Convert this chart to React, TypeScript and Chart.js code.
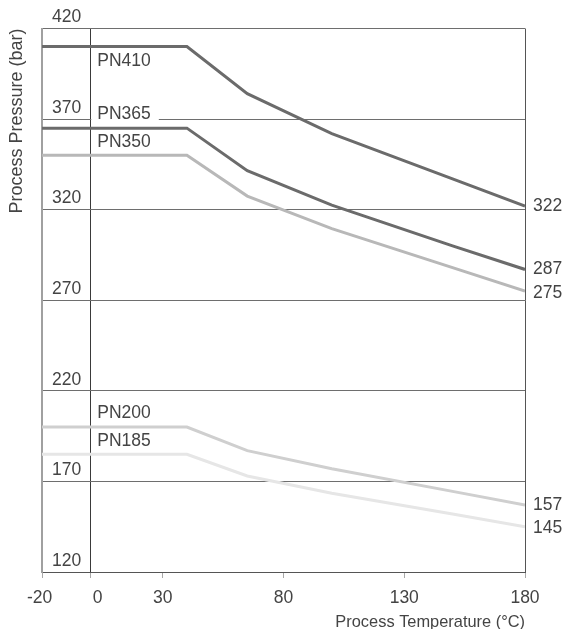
import React, { useEffect, useRef } from "react";
import { Chart, registerables } from "chart.js";

Chart.register(...registerables);

// ---- data ----
const temperatures = [-20, 40, 65, 100, 150, 180];
const seriesNames = ["PN410", "PN365", "PN350", "PN200", "PN185"];
const pn410 = [410, 410, 384, 362, 337, 322];
const pn365 = [365, 365, 341.5, 322.5, 300, 287];
const pn350 = [350, 350, 327.5, 309.5, 288, 275];
const pn200 = [200, 200, 187, 177, 164.5, 157];
const pn185 = [185, 185, 173, 163.5, 152, 145];
const xTicks = [-20, 0, 30, 80, 130, 180];
const yTicks = [120, 170, 220, 270, 320, 370, 420];

const seriesValues = [pn410, pn365, pn350, pn200, pn185];
const seriesColors = ["#6b6b6b", "#6b6b6b", "#b8b8b8", "#cfcfcf", "#e6e6e6"];

const FAMILY = "'Liberation Sans', Arial, Helvetica, sans-serif";
const TEXT = "#444444";
const TICK_SIZE = 17.5;

const labelPlugin = {
  id: "pnLabels",
  afterDatasetsDraw(chart: any) {
    const { ctx, chartArea, scales } = chart;
    const xs = scales.x;
    const ys = scales.y;
    ctx.save();
    ctx.font = `${TICK_SIZE}px ${FAMILY}`;
    ctx.textBaseline = "middle";
    ctx.textAlign = "left";
    const x0 = xs.getPixelForValue(0);
    chart.data.datasets.forEach((ds: any) => {
      const py = ys.getPixelForValue(ds.data[0].y);
      const below = py - 22 < chartArea.top;
      const cy = below ? py + 14.5 : py - 13.5;
      const w = ctx.measureText(ds.label).width;
      ctx.fillStyle = "#ffffff";
      ctx.fillRect(x0 + 1, cy - 9, w + 14, 18);
      ctx.fillStyle = TEXT;
      ctx.fillText(ds.label, x0 + 7, cy);
    });
    const ends = chart.data.datasets
      .map((ds: any) => {
        const last = ds.data[ds.data.length - 1];
        return { text: String(last.y), py: ys.getPixelForValue(last.y) };
      })
      .sort((a: any, b: any) => a.py - b.py);
    for (let i = 1; i < ends.length; i++) {
      if (ends[i].py - ends[i - 1].py < 23.5) ends[i].py = ends[i - 1].py + 23.5;
    }
    ctx.fillStyle = TEXT;
    ends.forEach((e: any) => ctx.fillText(e.text, chartArea.right + 8, e.py));
    ctx.restore();
  },
};

export default function App() {
  const canvasRef = useRef<HTMLCanvasElement | null>(null);

  useEffect(() => {
    document.body.style.margin = "0";
    if (!canvasRef.current) return;
    Chart.defaults.font.family = FAMILY;
    Chart.defaults.color = TEXT;

    const datasets = seriesNames.map((name, i) => ({
      label: name,
      data: temperatures.map((t, j) => ({ x: t, y: seriesValues[i][j] })),
      borderColor: seriesColors[i],
      backgroundColor: seriesColors[i],
      borderWidth: 3,
      pointRadius: 0,
      pointHoverRadius: 0,
      tension: 0,
      fill: false,
    }));

    const chart = new Chart(canvasRef.current, {
      type: "line",
      data: { datasets },
      options: {
        animation: false,
        responsive: true,
        maintainAspectRatio: false,
        layout: { padding: { top: 19, right: 43, left: 0, bottom: 0 } },
        plugins: {
          legend: { display: false },
          tooltip: { enabled: false },
        },
        scales: {
          x: {
            type: "linear",
            min: -20,
            max: 180,
            afterBuildTicks: (scale: any) => {
              scale.ticks = xTicks.map((v) => ({ value: v }));
            },
            afterFit: (scale: any) => {
              scale.height = 57;
            },
            ticks: {
              autoSkip: false,
              maxRotation: 0,
              padding: 10,
              color: TEXT,
              font: { size: TICK_SIZE },
              callback: (v: any) =>
                v === 0 ? "   0" : v === -20 ? "-20 " : String(v),
            },
            grid: {
              drawOnChartArea: true,
              drawTicks: true,
              tickLength: 6,
              tickColor: "#a8a8a8",
              lineWidth: 1,
              color: (c: any) =>
                c.tick && c.tick.value === 0
                  ? "#3a3a3a"
                  : c.tick && c.tick.value === 180
                  ? "#555555"
                  : "rgba(0,0,0,0)",
            },
            border: { display: true, color: "#555555", width: 1 },
            title: {
              display: true,
              text: "Process Temperature (°C)",
              align: "end",
              color: TEXT,
              font: { size: 16.4, lineHeight: 0.8 },
              padding: 0,
            },
          },
          y: {
            type: "linear",
            min: 120,
            max: 420,
            afterBuildTicks: (scale: any) => {
              scale.ticks = yTicks.map((v) => ({ value: v }));
            },
            afterFit: (scale: any) => {
              scale.width = 34;
            },
            ticks: {
              mirror: true,
              padding: 10,
              labelOffset: -11,
              color: TEXT,
              font: { size: TICK_SIZE },
            },
            grid: {
              drawTicks: false,
              tickLength: 0,
              color: "#6e6e6e",
              lineWidth: 1,
            },
            border: { display: true, color: "#a0a0a0", width: 2 },
            title: {
              display: true,
              text: "Process Pressure (bar)",
              align: "end",
              color: TEXT,
              font: { size: 18, lineHeight: 1 },
              padding: 0,
            },
          },
        },
      },
      plugins: [labelPlugin],
    });

    return () => chart.destroy();
  }, []);

  return (
    <div style={{ width: 560, height: 637, padding: "8px 0 8px 8px", boxSizing: "border-box" }}>
      <div style={{ width: 560, height: 621, position: "relative" }}>
        <canvas ref={canvasRef} />
      </div>
    </div>
  );
}
